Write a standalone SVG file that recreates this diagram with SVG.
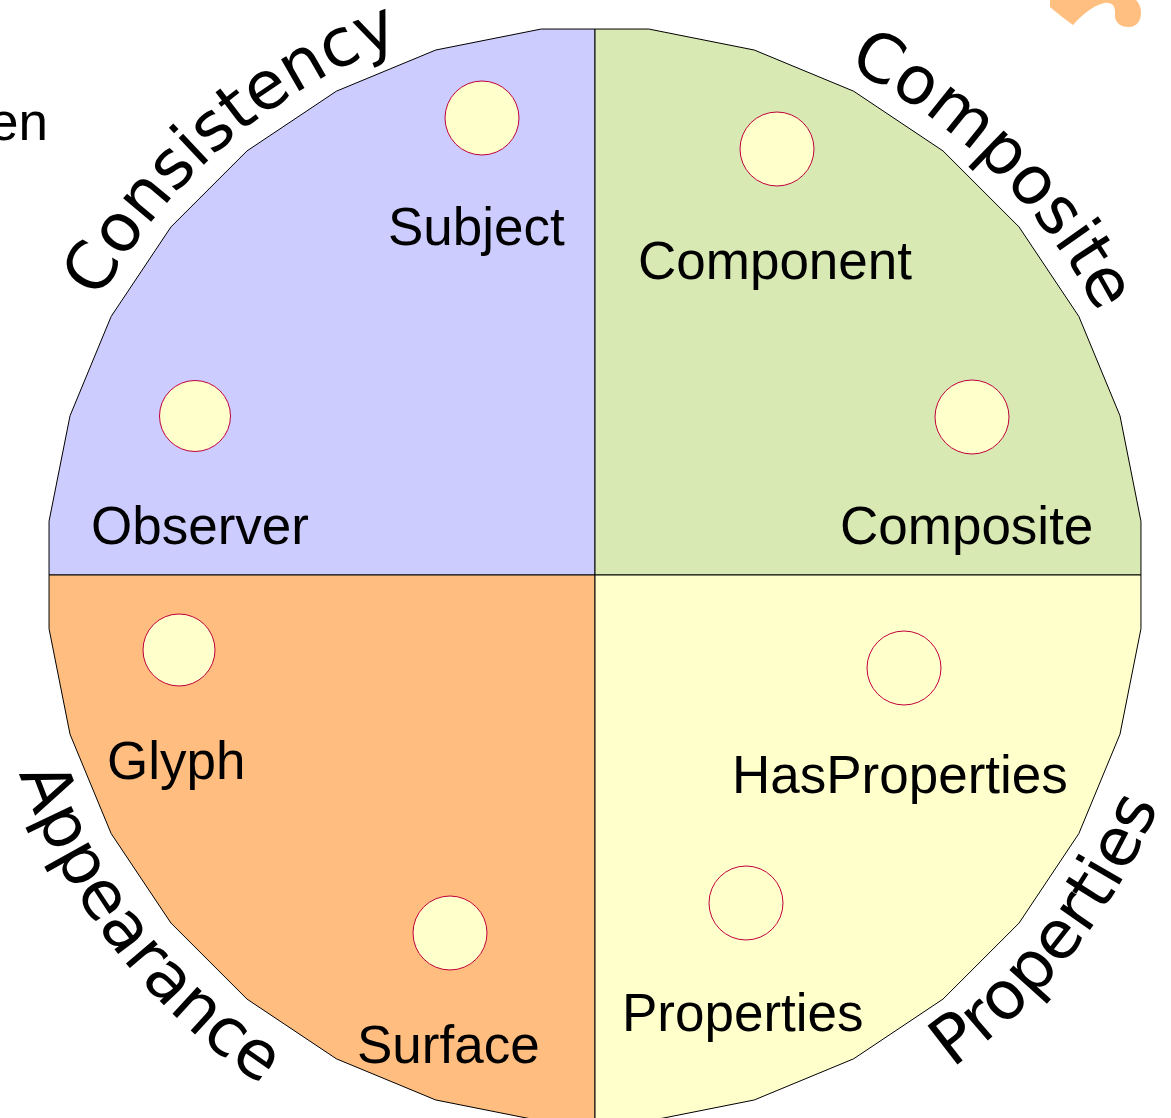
<svg xmlns="http://www.w3.org/2000/svg" width="1171" height="1118" viewBox="0 0 1171 1118">
<style>
.q{stroke:#000;stroke-width:1;stroke-linejoin:round}
.n{fill:#ffffcc;stroke:#c0003c;stroke-width:1}
.lbl{font-family:"Liberation Sans",Arial,sans-serif;font-size:53px;fill:#000}
.arc{font-family:"DejaVu Sans",Verdana,sans-serif;font-size:67px;fill:#000}
</style>
<defs>
<path id="pConsistency" d="M99.3,299.8 A567,567 0 0 1 1162,575"/>
<path id="pComposite" d="M847.1,67.1 A567,567 0 0 1 1162,575"/>
<path id="pAppearance" d="M19.2,773.3 A609,609 0 0 0 1204,575"/>
<path id="pProperties" d="M952.1,1068.3 A609,609 0 0 0 1204,575"/>
</defs>
<rect width="1171" height="1118" fill="#fff"/>
<path d="M1050,0 L1050,7 C1058,14 1066,20 1073,25 C1082,15 1092,6 1104,3 C1112,2 1115,6 1115,12 L1115,17 C1116,24 1122,27 1129,27 C1137,27 1141,20 1141,13 C1141,7 1139,3 1136,0 Z" fill="#ffbf80"/>
<text class="lbl" x="48" y="140" text-anchor="end">en</text>
<g id="quadrants">
<path id="q-consistency" class="q" fill="#ccccff" d="M595,575 L595,29.04 L541.23,29.04 L435.75,50.02 L336.39,91.18 L246.97,150.93 L170.93,226.97 L111.18,316.39 L70.02,415.75 L49.04,521.23 L49.04,575 Z"/>
<path id="q-composite" class="q" fill="#d8e9b3" d="M595,575 L595,29.04 L648.77,29.04 L754.25,50.02 L853.61,91.18 L943.03,150.93 L1019.07,226.97 L1078.82,316.39 L1119.98,415.75 L1140.96,521.23 L1140.96,575 Z"/>
<path id="q-appearance" class="q" fill="#ffbe7f" d="M595,575 L49.04,575 L49.04,628.77 L70.02,734.25 L111.18,833.61 L170.93,923.03 L246.97,999.07 L336.39,1058.82 L435.75,1099.98 L541.23,1120.96 L595,1120.96 Z"/>
<path id="q-properties" class="q" fill="#ffffcc" d="M595,575 L1140.96,575 L1140.96,628.77 L1119.98,734.25 L1078.82,833.61 L1019.07,923.03 L943.03,999.07 L853.61,1058.82 L754.25,1099.98 L648.77,1120.96 L595,1120.96 Z"/>
</g>
<g id="section-titles">
<text class="arc"><textPath href="#pConsistency">Consistency</textPath></text>
<text class="arc"><textPath href="#pComposite">Composite</textPath></text>
<text class="arc"><textPath href="#pAppearance">Appearance</textPath></text>
<text class="arc"><textPath href="#pProperties">Properties</textPath></text>
</g>
<g id="connectors"></g>
<g id="node-subject"><circle class="n" cx="482" cy="118" r="37"/><text class="lbl" x="388" y="245">Subject</text></g>
<g id="node-component"><circle class="n" cx="777" cy="149" r="37"/><text class="lbl" x="638" y="279">Component</text></g>
<g id="node-observer"><circle class="n" cx="195" cy="416" r="35.5"/><text class="lbl" x="91" y="544">Observer</text></g>
<g id="node-composite"><circle class="n" cx="972" cy="417" r="37"/><text class="lbl" x="840" y="544">Composite</text></g>
<g id="node-glyph"><circle class="n" cx="179" cy="650" r="36"/><text class="lbl" x="107" y="779">Glyph</text></g>
<g id="node-hasproperties"><circle class="n" cx="904" cy="668" r="37"/><text class="lbl" x="732" y="793">HasProperties</text></g>
<g id="node-surface"><circle class="n" cx="450" cy="933" r="37"/><text class="lbl" x="357" y="1063">Surface</text></g>
<g id="node-properties"><circle class="n" cx="746" cy="903" r="37"/><text class="lbl" x="622" y="1031">Properties</text></g>
</svg>
